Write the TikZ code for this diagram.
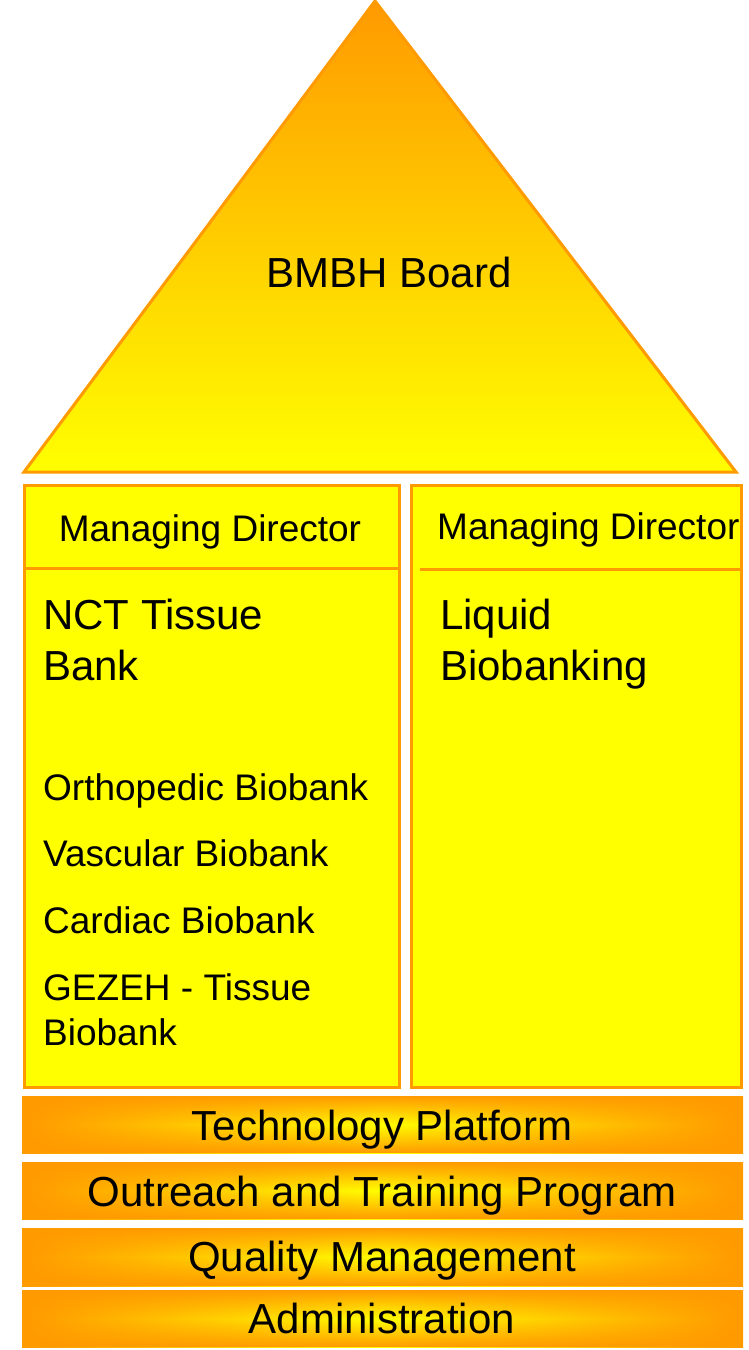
\documentclass[tikz,border=0pt]{standalone}
\usepackage{fontspec}
\setmainfont{Liberation Sans}
\usetikzlibrary{fadings}
\definecolor{orng}{HTML}{FF9A00}
\definecolor{yel}{HTML}{FFFF00}
\tikzfading[name=vband, top color=transparent!0, bottom color=transparent!0, middle color=transparent!100]
\tikzset{
  boxline/.style={draw=orng, line width=3pt, fill=yel},
  big/.style={font=\fontsize{42}{51}\selectfont, inner sep=0pt},
  mid/.style={font=\fontsize{37}{45}\selectfont, inner sep=0pt},
  bartext/.style={font=\fontsize{42}{51}\selectfont, inner sep=0pt, anchor=base},
  barfill/.style={left color=orng, right color=orng, middle color=yel},
  baredge/.style={fill=orng, path fading=vband},
}
\begin{document}
\begin{tikzpicture}[x=1pt, y=-1pt]
\useasboundingbox (0,0) rectangle (749,1350);
% roof
\shade[top color=orng, bottom color=yel] (375,1) -- (736,472) -- (24,472) -- cycle;
\draw[orng, line width=3pt, line join=miter] (375,1) -- (736,472) -- (24,472) -- cycle;
\node[big, anchor=base] (board) at (389,287) {BMBH Board};
% left box
\draw[boxline] (24,485) rectangle (399,1087);
\draw[orng, line width=3pt] (24,568) -- (399,568);
\node[mid, anchor=base] (md1) at (210,541) {Managing Director};
\node[big, anchor=base west, align=left] (nct) at (43,680) {NCT Tissue\\Bank};
\node[mid, anchor=base west] (ortho) at (43,800) {Orthopedic Biobank};
\node[mid, anchor=base west] (vasc) at (43,866) {Vascular Biobank};
\node[mid, anchor=base west] (card) at (43,933) {Cardiac Biobank};
\node[mid, anchor=base west, align=left] (gezeh) at (43,1045) {GEZEH - Tissue\\Biobank};
% right box
\draw[boxline] (411,485) rectangle (741,1087);
\draw[orng, line width=3pt] (420,569) -- (741,569);
\node[mid, anchor=base west] (md2) at (437,539) {Managing Director};
\node[big, anchor=base west, align=left] (liq) at (440,680) {Liquid\\Biobanking};
% bars
\fill[barfill] (22,1096) rectangle (743,1153);
\fill[baredge] (22,1096) rectangle (743,1153);
\node[bartext] (tech) at (382,1140) {Technology Platform};
\fill[barfill] (22,1162) rectangle (743,1219);
\fill[baredge] (22,1162) rectangle (743,1219);
\node[bartext] (outr) at (382,1206) {Outreach and Training Program};
\fill[barfill] (22,1228) rectangle (743,1286);
\fill[baredge] (22,1228) rectangle (743,1286);
\node[bartext] (qm) at (382,1271) {Quality Management};
\fill[barfill] (22,1290) rectangle (743,1347);
\fill[baredge] (22,1290) rectangle (743,1347);
\node[bartext] (adm) at (382,1333) {Administration};
\end{tikzpicture}
\end{document}
